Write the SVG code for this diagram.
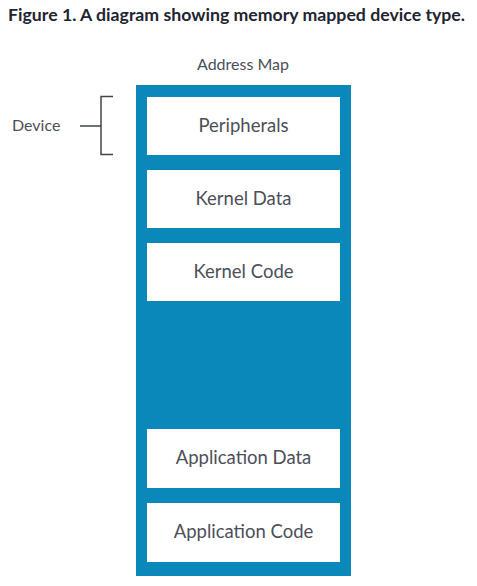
<svg xmlns="http://www.w3.org/2000/svg" width="477" height="586" viewBox="0 0 477 586">
<style>
.t{font-family:Lato,"Liberation Sans",sans-serif;fill:#4b4f58}
.box{fill:#ffffff}
.lbl{font-size:18.5px;text-anchor:middle}
.ln{stroke:#3f444d;stroke-width:1.5;fill:none}
</style>
<rect width="477" height="586" fill="#ffffff"/>
<text x="8" y="21" font-family="Lato,'Liberation Sans',sans-serif" font-weight="bold" font-size="17.7" fill="#1e2430">Figure 1. A diagram showing memory mapped device type.</text>
<text class="t" x="243" y="70" font-size="16" text-anchor="middle">Address Map</text>
<g id="address-map">
<rect x="136" y="85" width="215" height="491" fill="#0a88ba"/>
</g>
<g id="peripherals">
<rect class="box" x="147" y="97" width="193" height="58"/>
<text class="t lbl" x="243.5" y="132">Peripherals</text>
</g>
<g id="kernel-data">
<rect class="box" x="147" y="170" width="193" height="58"/>
<text class="t lbl" x="243.5" y="205">Kernel Data</text>
</g>
<g id="kernel-code">
<rect class="box" x="147" y="243" width="193" height="58"/>
<text class="t lbl" x="243.5" y="278">Kernel Code</text>
</g>
<g id="application-data">
<rect class="box" x="147" y="429" width="193" height="59"/>
<text class="t lbl" x="243.5" y="464">Application Data</text>
</g>
<g id="application-code">
<rect class="box" x="147" y="503" width="193" height="59"/>
<text class="t lbl" x="243.5" y="538">Application Code</text>
</g>
<g id="device">
<text class="t" x="12" y="131" font-size="16">Device</text>
</g>
<g id="connectors">
<path class="ln" d="M113 96.5 H101 V154.5 H113 M80 126 H101"/>
</g>
</svg>
